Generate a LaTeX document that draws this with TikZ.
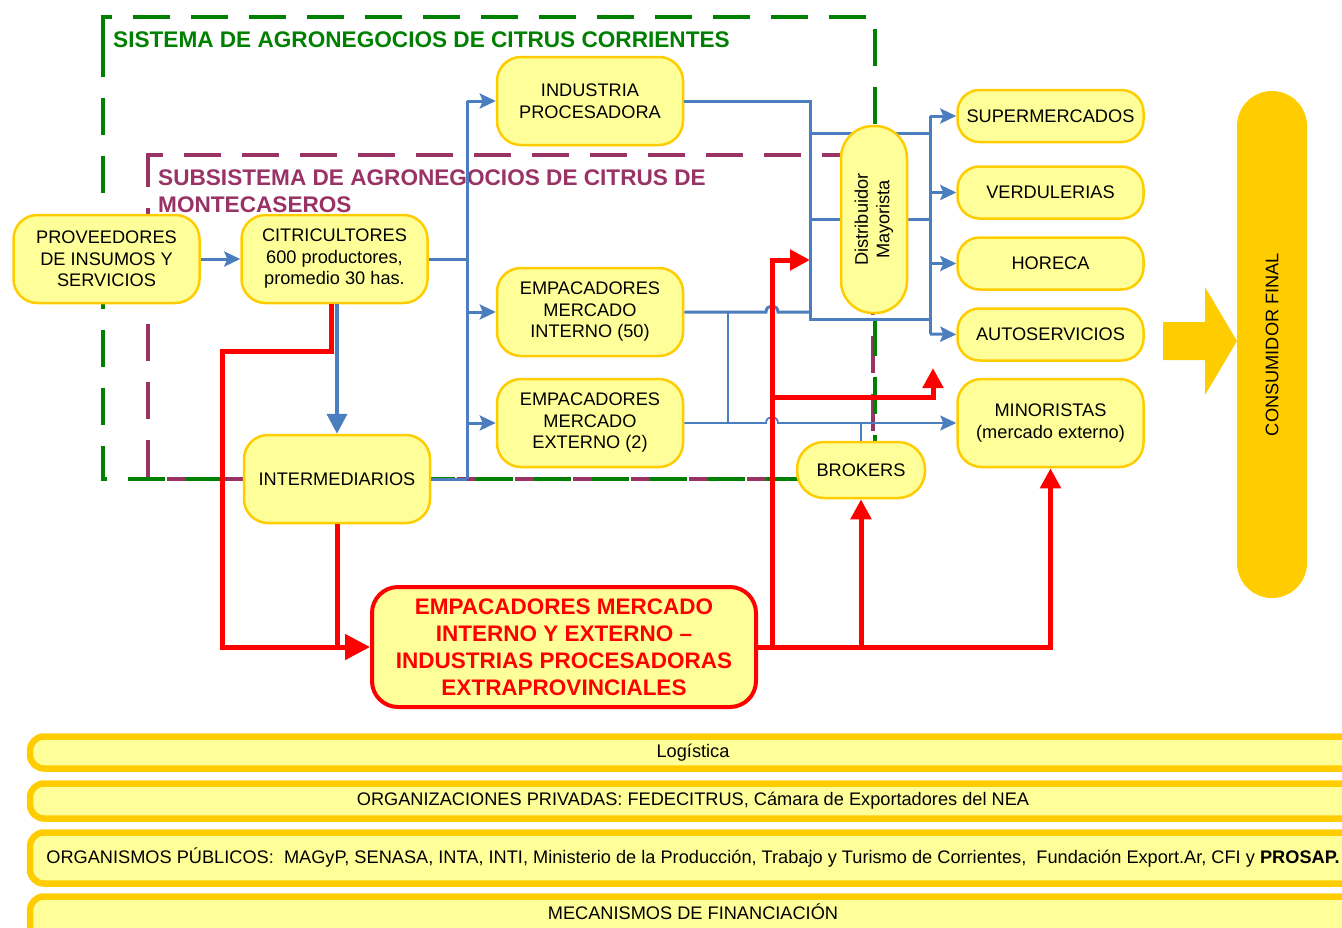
\documentclass[tikz,border=0pt]{standalone}
\usepackage{fontspec}
\setmainfont{Liberation Sans}
\usetikzlibrary{arrows.meta}
\pgfdeclarelayer{bg}
\pgfsetlayers{bg,main}
\definecolor{boxfill}{HTML}{FFFF99}
\definecolor{boxborder}{HTML}{FFCC00}
\definecolor{gold}{HTML}{FFCC00}
\definecolor{sysgreen}{HTML}{008000}
\definecolor{subpurple}{HTML}{993366}
\definecolor{flowblue}{HTML}{4A7EBF}
\definecolor{flowred}{HTML}{FF0000}
\newcommand\nfont{\fontsize{18.2}{21.5}\selectfont}
\newcommand\tfont{\fontsize{22.6}{27}\selectfont\bfseries}
\newcommand\rfont{\fontsize{22.5}{27}\selectfont\bfseries}
\begin{document}
\begin{tikzpicture}[x=1pt,y=-1pt,
  box/.style={draw=boxborder, line width=2.5pt, fill=boxfill, rounded corners=24pt, minimum width=186pt, minimum height=88pt, align=center, font=\nfont, inner sep=0pt},
  sbox/.style={box, rounded corners=22pt, minimum height=52pt},
  band/.style={draw=gold, line width=6.5pt, fill=boxfill, rounded corners=14pt},
  bandtext/.style={font=\nfont, anchor=center, inner sep=0pt},
  bline/.style={draw=flowblue, line width=3pt},
  tline/.style={draw=flowblue, line width=1.8pt},
  barrow/.style={bline, -{Stealth[length=16pt,width=15pt,inset=3pt]}},
  tarrow/.style={tline, -{Stealth[length=16pt,width=15pt,inset=3pt]}},
  rline/.style={draw=flowred, line width=5pt},
  rarrow/.style={rline, -{Triangle[length=20pt,width=20pt]}},
  gframe/.style={draw=sysgreen, line width=4pt, dash pattern=on 37pt off 21pt},
  pframe/.style={draw=subpurple, line width=4pt, dash pattern=on 37pt off 21pt},
  ttl/.style={anchor=base west, font=\tfont, inner sep=0pt},
]
\useasboundingbox (0,0) rectangle (1342,927);
\clip (0,0) rectangle (1342,927);

% titles
\node[ttl, text=sysgreen] (gtitle) at (113,47) {SISTEMA DE AGRONEGOCIOS DE CITRUS CORRIENTES};
\node[ttl, text=subpurple] (ptitle1) at (158,185) {SUBSISTEMA DE AGRONEGOCIOS DE CITRUS DE};
\node[ttl, text=subpurple] (ptitle2) at (158,212) {MONTECASEROS};

% nodes
\node[box] (prov) at (106.5,259) {PROVEEDORES\\DE INSUMOS Y\\SERVICIOS};
\node[box] (citri) at (334.5,259) {CITRICULTORES\\600 productores,\\promedio 30 has.};
\node[box] (ind) at (590,101) {INDUSTRIA\\PROCESADORA};
\node[box] (emi) at (590,312) {EMPACADORES\\MERCADO\\INTERNO (50)};
\node[box] (eme) at (590,423) {EMPACADORES\\MERCADO\\EXTERNO (2)};
\node[box] (inter) at (337,479) {INTERMEDIARIOS};
\node[box, rotate=90, minimum width=187pt, minimum height=66pt, rounded corners=32pt] (dist) at (874,219.5) {Distribuidor\\Mayorista};
\node[sbox] (sup) at (1050.5,116) {SUPERMERCADOS};
\node[sbox] (ver) at (1050.5,192.5) {VERDULERIAS};
\node[sbox] (hor) at (1050.5,263.5) {HORECA};
\node[sbox] (aut) at (1050.5,334.5) {AUTOSERVICIOS};
\node[box] (min) at (1050.5,423) {MINORISTAS\\(mercado externo)};
\node[box, minimum width=128pt, minimum height=56pt, rounded corners=27pt] (brok) at (861,470) {BROKERS};
\node[box, draw=flowred, line width=4pt, minimum width=384pt, minimum height=120pt, rounded corners=26pt, font=\rfont, text=flowred] (ext) at (564,647) {EMPACADORES MERCADO\\INTERNO Y EXTERNO –\\INDUSTRIAS PROCESADORAS\\EXTRAPROVINCIALES};
\node[fill=gold, rounded corners=35pt, rotate=90, minimum width=507pt, minimum height=70pt, inner sep=0pt, font=\nfont] (cons) at (1272,344.5) {CONSUMIDOR FINAL};
\fill[gold] (1163,322) -- (1205,322) -- (1205,287) -- (1237,341) -- (1205,395) -- (1205,360) -- (1163,360) -- cycle;

% background frames and through-lines
\begin{pgfonlayer}{bg}
\draw[pframe] (148,177) -- (148,155) -- (873,155) -- (873,479) -- (148,479) -- cycle;
\draw[gframe] (103,45) -- (103,17) -- (875,17) -- (875,479) -- (103,479) -- cycle;
\draw[bline] (810,133) -- (930,133);
\draw[bline] (810,219) -- (930,219);
\end{pgfonlayer}

% blue flows
\coordinate (ba) at (467,101);
\coordinate (bb) at (467,479);
\coordinate (ca) at (810,101);
\coordinate (cb) at (810,319);
\coordinate (da) at (930,116);
\coordinate (db) at (930,334);
\coordinate (jv) at (728,312);
\draw[barrow] (prov) -- (citri);
\draw[bline] (citri.east) -- (citri.east -| ba);
\draw[bline] (ba) -- (bb);
\draw[barrow] (ba) -- (ind.west);
\draw[barrow] (emi.west -| ba) -- (emi.west);
\draw[barrow] (eme.west -| ba) -- (eme.west);
\draw[bline] (inter.east) -- (bb);
\draw[bline, line width=4pt, -{Triangle[length=20pt,width=20pt]}] (inter.north |- citri.south) -- (inter.north);
\draw[bline] (ind.east) -- (ca) -- (cb) -- (cb -| da);
\draw[bline] (da) -- (db);
\draw[barrow] (da) -- (sup.west);
\draw[barrow] (ver.west -| da) -- (ver.west);
\draw[barrow] (hor.west -| da) -- (hor.west);
\draw[barrow] (db) -- (aut.west);
\draw[bline] (emi.east) -- (766,312) .. controls (766,304) and (778,304) .. (778,312) -- (emi.east -| ca);
\draw[tarrow] (eme.east) -- (766,423) .. controls (766,415) and (778,415) .. (778,423) -- (min.west);
\draw[tline] (jv) -- (jv |- eme.east);
\draw[tline] (brok.north |- eme.east) -- (brok.north);

% red flows
\coordinate (rl) at (222,351);
\coordinate (rv) at (772,647);
\coordinate (rd) at (810,260);
\coordinate (ra) at (933,368);
\draw[rline, -{Triangle[length=25pt,width=25pt]}] ([xshift=-3pt]citri.south) -- ([xshift=-3pt]citri.south |- rl) -- (rl) -- (rl |- ext.west) -- (ext.west);
\draw[rline] (inter.south) -- (inter.south |- ext.west);
\draw[rarrow] (ext.east) -| (min.south);
\draw[rarrow] (ext.east -| brok.south) -- (brok.south);
\draw[rarrow] (rv) -- (rv |- rd) -- (rd);
\draw[rarrow] (772,397) -- (ra |- 0,397) -- (ra);

% bottom bands
\draw[band] (30,736.5) rectangle (1365,768.5);
\node[bandtext] (b1) at (693,753) {Logística};
\draw[band] (30,783.5) rectangle (1365,818.5);
\node[bandtext] (b2) at (693,801) {ORGANIZACIONES PRIVADAS: FEDECITRUS, Cámara de Exportadores del NEA};
\draw[band] (30,832.5) rectangle (1365,883.5);
\node[bandtext] (b3) at (693,857) {ORGANISMOS PÚBLICOS:\ \ MAGyP, SENASA, INTA, INTI, Ministerio de la Producción, Trabajo y Turismo de Corrientes,\ \ Fundación Export.Ar, CFI y \textbf{PROSAP.}};
\draw[band] (30,896.5) rectangle (1365,960);
\node[bandtext] (b4) at (693,912) {MECANISMOS DE FINANCIACIÓN};
\end{tikzpicture}
\end{document}
